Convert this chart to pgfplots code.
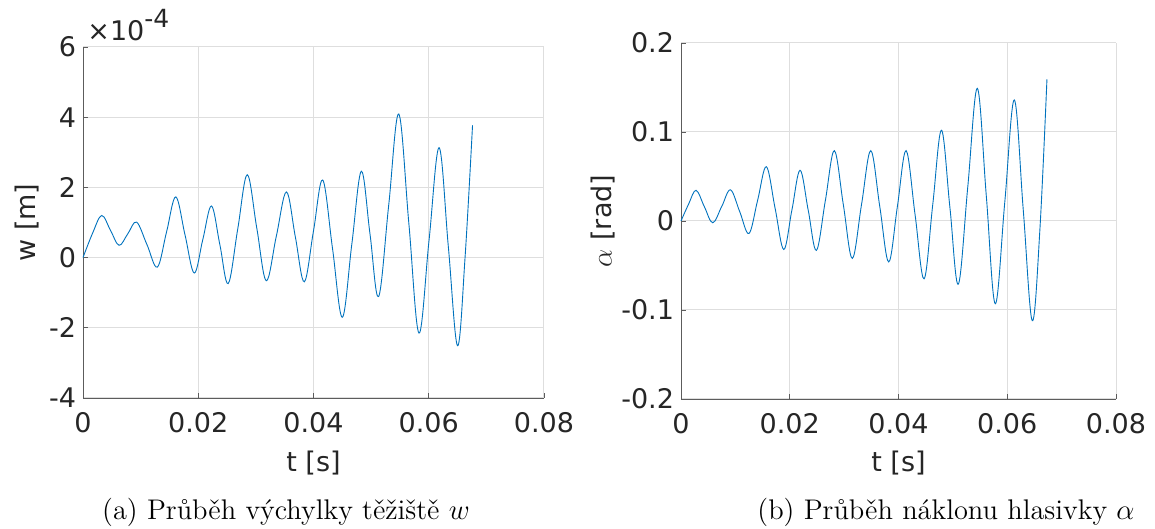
\documentclass[border=0pt]{standalone}
\usepackage{fontspec}
\usepackage{pgfplots}
\pgfplotsset{compat=1.18}
\newfontfamily\axfont{DejaVu Sans}
\definecolor{mblue}{rgb}{0,0.447,0.741}
\definecolor{axgray}{RGB}{38,38,38}
\definecolor{gridgray}{RGB}{222,222,222}
\pgfplotsset{mstyle/.style={
  scale only axis,
  axis x line*=bottom, axis y line*=left,
  axis line style={draw=axgray!75, line width=0.45pt},
  grid=major,
  major grid style={draw=gridgray, line width=0.5pt},
  tick align=inside,
  major tick length=2.5pt,
  tick style={draw=axgray!75, line width=0.45pt},
  scaled ticks=false,
  font=\axfont\fontsize{13.5}{15}\selectfont,
  tick label style={font=\axfont\fontsize{13.5}{15}\selectfont, text=axgray},
  xticklabel style={yshift=-3.5pt},
  label style={font=\axfont\fontsize{13.5}{15}\selectfont, text=axgray},
  xmin=0, xmax=0.08,
  xtick={0,0.02,0.04,0.06,0.08},
  xticklabels={0,0.02,0.04,0.06,0.08},
  xlabel={t [s]},
  clip=false,
}}
\begin{document}
\begin{tikzpicture}
\path[use as bounding box] (0,0) rectangle (577.5pt,264.5pt);
\begin{axis}[mstyle, at={(41.5pt,65.5pt)}, anchor=south west,
  width=230.5pt, height=175.5pt,
  ymin=-4, ymax=6, ytick={-4,-2,0,2,4,6}, yticklabels={-4,-2,0,2,4,6},
  ylabel={w [m]},
  xlabel style={at={(axis description cs:0.5,-0.185)}, anchor=center},
  ylabel style={at={(axis description cs:-0.121,0.5)}, anchor=center, rotate=0},
]
\addplot[mblue, line width=0.45pt, smooth, tension=0.6] coordinates {
(0,0) (0.0017,0.71) (0.00325,1.2) (0.00476,0.78) (0.00626,0.35) (0.00778,0.68)
(0.0093,1.01) (0.0111,0.37) (0.0129,-0.27) (0.0145,0.73) (0.0161,1.73)
(0.0177,0.65) (0.0193,-0.44) (0.0208,0.52) (0.0223,1.47) (0.02375,0.37)
(0.0252,-0.74) (0.02685,0.81) (0.0285,2.36) (0.03015,0.85) (0.0318,-0.66)
(0.03355,0.61) (0.0353,1.87) (0.03685,0.59) (0.0384,-0.69) (0.04,0.76)
(0.0416,2.21) (0.0433,0.26) (0.045,-1.7) (0.04665,0.38) (0.0483,2.46)
(0.0498,0.68) (0.0513,-1.11) (0.05305,1.49) (0.0548,4.09) (0.05655,0.97)
(0.0583,-2.15) (0.06005,0.49) (0.0618,3.13) (0.0634,0.31) (0.065,-2.51)
(0.0663,0.0) (0.0676,3.77)
};
\node[anchor=base west, inner sep=0pt, text=axgray, font=\axfont\fontsize{13.5}{15}\selectfont] at ([xshift=2pt,yshift=3pt]axis description cs:0,1) {×10\raisebox{0.5em}{\fontsize{12.5}{14}\selectfont -4}};
\end{axis}
\begin{axis}[mstyle, at={(340.5pt,65pt)}, anchor=south west,
  width=217.5pt, height=178pt,
  ymin=-0.2, ymax=0.2, ytick={-0.2,-0.1,0,0.1,0.2}, yticklabels={-0.2,-0.1,0,0.1,0.2},
  ylabel={$\alpha$ [rad]},
  xlabel style={at={(axis description cs:0.5,-0.18)}, anchor=center},
  ylabel style={at={(axis description cs:-0.179,0.5)}, anchor=center, rotate=0},
]
\addplot[mblue, line width=0.45pt, smooth, tension=0.6] coordinates {
(0,0) (0.0014,0.019) (0.00277,0.0345) (0.0043,0.016) (0.00584,-0.002)
(0.0075,0.0165) (0.0091,0.035) (0.0108,0.0105) (0.0125,-0.014) (0.0141,0.0235)
(0.0157,0.061) (0.0173,0.0145) (0.0189,-0.032) (0.0204,0.0125) (0.0219,0.057)
(0.0234,0.012) (0.0249,-0.033) (0.02655,0.023) (0.0282,0.079) (0.02985,0.0185)
(0.0315,-0.042) (0.0332,0.0185) (0.0349,0.079) (0.03655,0.0165) (0.0382,-0.046)
(0.0398,0.0165) (0.0414,0.079) (0.04305,0.007) (0.0447,-0.065) (0.0463,0.0185)
(0.0479,0.102) (0.04945,0.0155) (0.051,-0.071) (0.05275,0.039) (0.0545,0.149)
(0.05615,0.028) (0.0578,-0.093) (0.05955,0.0215) (0.0613,0.136) (0.06295,0.012)
(0.0646,-0.112) (0.066,-0.01) (0.0673,0.159)
};
\end{axis}
\node[anchor=base, font=\fontsize{14.2}{16}\selectfont] at (143pt,4.5pt) {(a) Průběh výchylky těžiště $w$};
\node[anchor=base, font=\fontsize{14.2}{16}\selectfont] at (473pt,4.5pt) {(b) Průběh náklonu hlasivky $\alpha$};
\end{tikzpicture}
\end{document}
